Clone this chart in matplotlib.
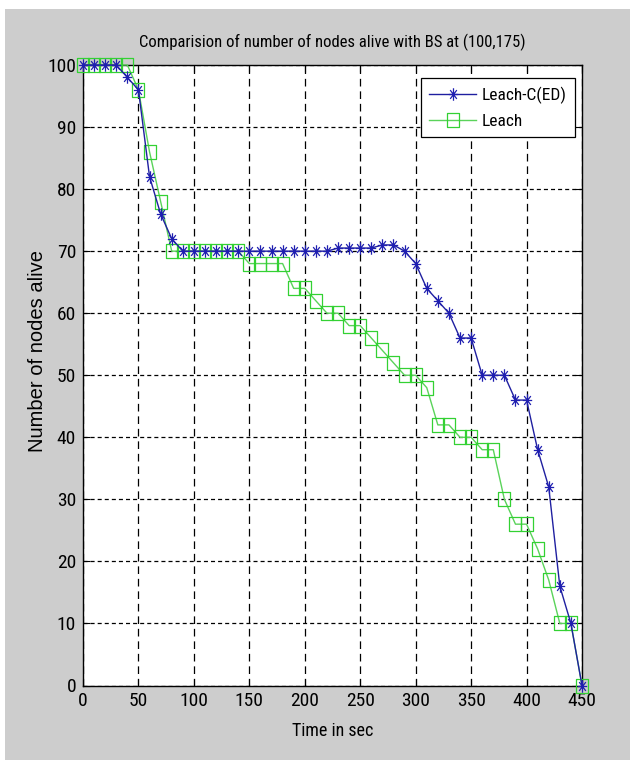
import numpy as np
import matplotlib
matplotlib.use('Agg')
import matplotlib.pyplot as plt
from matplotlib.path import Path
from matplotlib.patches import Rectangle

# Dados (tempo em s, nós vivos)
tempo = list(range(0, 451, 10))

leach_ced = [100, 100, 100, 100, 98, 96, 82, 76, 72, 70,
             70, 70, 70, 70, 70, 70, 70, 70, 70, 70,
             70, 70, 70, 70.5, 70.5, 70.5, 70.5, 71, 71, 70,
             68, 64, 62, 60, 56, 56, 50, 50, 50, 46,
             46, 38, 32, 16, 10, 0]

leach = [100, 100, 100, 100, 100, 96, 86, 78, 70, 70,
         70, 70, 70, 70, 70, 68, 68, 68, 68, 64,
         64, 62, 60, 60, 58, 58, 56, 54, 52, 50,
         50, 48, 42, 42, 40, 40, 38, 38, 30, 26,
         26, 22, 17, 10, 10, 0]

xticks = list(range(0, 451, 50))
yticks = list(range(0, 101, 10))

titulo = 'Comparision of number of nodes alive with BS at (100,175)'
serie_nomes = ['Leach-C(ED)', 'Leach']

# fonte estreita, como a da imagem original
narrow = ['Liberation Sans Narrow', 'Roboto Condensed', 'DejaVu Sans Condensed',
          'Liberation Sans', 'DejaVu Sans']
plt.rcParams['font.family'] = narrow
plt.rcParams['lines.scale_dashes'] = False

# marcadores um pouco esticados na vertical, como na imagem
ang = np.deg2rad([0, 45, 90, 135])
verts, codes = [], []
for a in ang:
    verts += [(-0.75 * np.cos(a), -np.sin(a)), (0.75 * np.cos(a), np.sin(a))]
    codes += [Path.MOVETO, Path.LINETO]
asterisco = Path(verts, codes)
quadrado = Path([(-0.85, -1), (0.85, -1), (0.85, 1), (-0.85, 1), (-0.85, -1)],
                [Path.MOVETO, Path.LINETO, Path.LINETO, Path.LINETO, Path.CLOSEPOLY])

fig = plt.figure(figsize=(6.3, 7.6), dpi=100, facecolor='white')
fig.patches.append(Rectangle((5 / 630, 0), 1, 751 / 760, transform=fig.transFigure,
                             facecolor='#cdcdcd', edgecolor='none', zorder=-10))

ax = fig.add_axes([83 / 630, 74.5 / 760, 499 / 630, 620.5 / 760])
ax.set_facecolor('white')

ax.plot(tempo, leach_ced, color='#1f1fa0', lw=1.0, marker=asterisco, ms=9,
        mew=0.9, mfc='none', mec='#1f1fb0', label=serie_nomes[0], zorder=4, clip_on=False)
ax.plot(tempo, leach, color='#5ad35a', lw=1.0, marker=quadrado, ms=10,
        mew=0.9, mfc='none', mec='#33d133', label=serie_nomes[1], zorder=3, clip_on=False)

ax.set_xlim(0, 450)
ax.set_ylim(0, 100)
ax.set_xticks(xticks)
ax.set_yticks(yticks)

ax.xaxis.grid(True, color='black', lw=0.9, linestyle=(0, (5.5, 3.5)))
ax.yaxis.grid(True, color='black', lw=0.9, linestyle=(0, (2.9, 2.2)))
ax.set_axisbelow(True)

ax.tick_params(direction='in', length=5, width=0.8, top=True, right=True,
               labelsize=14, pad=5)
for s in ax.spines.values():
    s.set_linewidth(1.0)

ax.set_title(titulo, fontsize=12, pad=13)
ax.set_xlabel('Time in sec', fontsize=13, labelpad=8)
ax.set_ylabel('Number of nodes alive', fontsize=14.5,
              family=['Liberation Sans', 'DejaVu Sans'])
ax.yaxis.set_label_coords(-0.072, 0.539)

leg = ax.legend(loc='upper right', bbox_to_anchor=(0.986, 0.979), borderaxespad=0,
                fontsize=12.5, fancybox=False, framealpha=1, edgecolor='black',
                handlelength=2.7, labelspacing=0.55, borderpad=0.5, handletextpad=0.3)
leg.get_frame().set_linewidth(0.9)

plt.savefig('out.png', dpi=100, facecolor=fig.get_facecolor())
